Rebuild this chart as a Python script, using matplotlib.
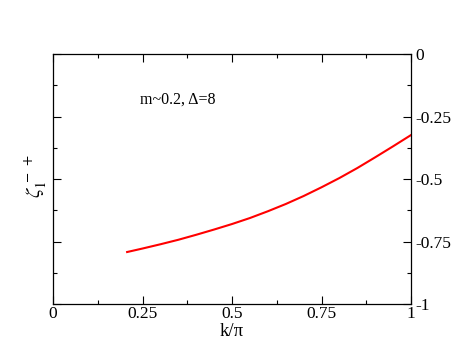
import numpy as np
import matplotlib
matplotlib.use('Agg')
import matplotlib.pyplot as plt
from matplotlib.ticker import MultipleLocator

plt.rcParams['font.family'] = 'Liberation Serif'
plt.rcParams['mathtext.fontset'] = 'stix'

# curve
k = [0.207, 0.25, 0.3, 0.35, 0.4, 0.45, 0.5, 0.55, 0.6, 0.65,
     0.7, 0.75, 0.8, 0.85, 0.9, 0.95, 1.0]
zeta = [-0.792, -0.778, -0.761, -0.743, -0.723, -0.702, -0.680, -0.656, -0.629, -0.600,
        -0.568, -0.533, -0.496, -0.456, -0.413, -0.369, -0.324]

xticks = [0, 0.25, 0.5, 0.75, 1]
xlabels = ['0', '0.25', '0.5', '0.75', '1']
yticks = [0, -0.25, -0.5, -0.75, -1]
ylabels = ['0', '-0.25', '-0.5', '-0.75', '-1']

fig = plt.figure(figsize=(4.63, 3.58), dpi=100)
ax = fig.add_axes([0.1145, 0.1508, 0.7732, 0.6982])

ax.plot(k, zeta, color='red', lw=1.5)

ax.set_xlim(0, 1)
ax.set_ylim(-1, 0)
ax.set_xticks(xticks)
ax.set_xticklabels(xlabels)
ax.set_yticks(yticks)
ax.set_yticklabels(ylabels)
ax.xaxis.set_minor_locator(MultipleLocator(0.125))
ax.yaxis.set_minor_locator(MultipleLocator(0.125))

ax.tick_params(which='both', direction='in', top=True, right=True,
               left=True, labelleft=False, labelright=True, labelsize=12.5,
               width=0.8)
ax.tick_params(axis='x', pad=1.5)
ax.tick_params(axis='y', pad=3)
ax.tick_params(which='major', length=6)
ax.tick_params(which='minor', length=3)
for s in ax.spines.values():
    s.set_linewidth(0.9)

ax.set_xlabel('k/π', fontsize=13.5, labelpad=0.5)
fig.text(36 / 463, 1 - 176 / 358, r'$\zeta_1^{\,-\;+}$', rotation=90,
         fontsize=15, ha='center', va='center')

ax.text(0.243, -0.184, 'm~0.2, Δ=8', fontsize=11.5, va='center')

fig.savefig('out.png', dpi=100)
